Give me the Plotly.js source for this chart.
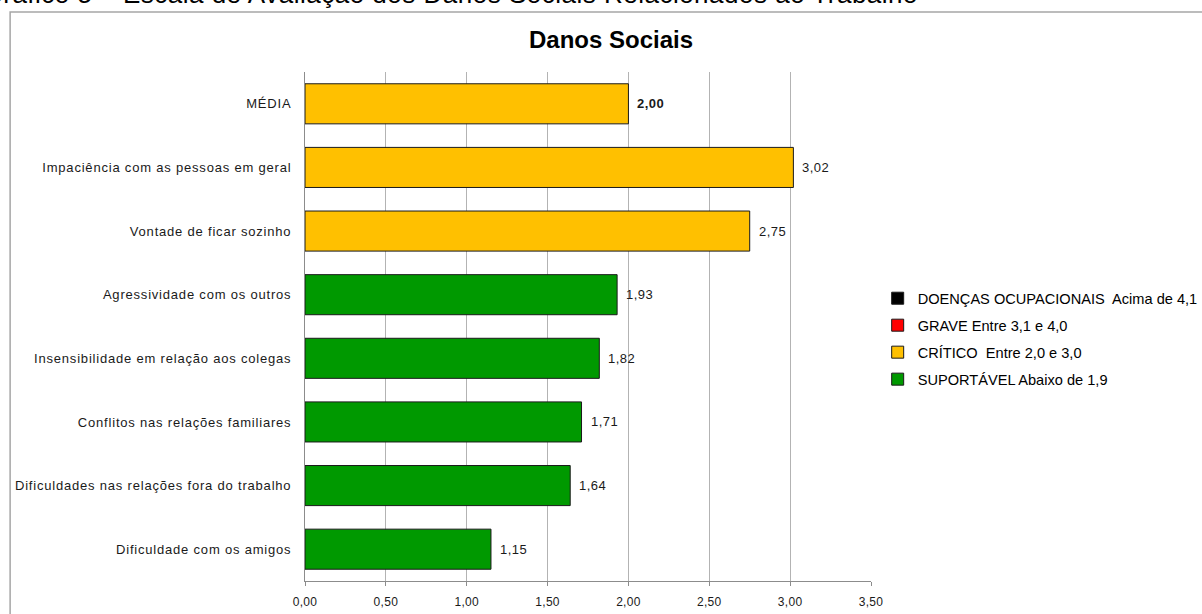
<!DOCTYPE html>
<html>
<head>
<meta charset="utf-8">
<script src="https://cdn.plot.ly/plotly-3.0.1.min.js"></script>
<style>
html,body{margin:0;padding:0;background:#fff;}
#chart{width:1202px;height:614px;}
#chart .ytick text{letter-spacing:0.8px;}
#chart .xtick text{letter-spacing:0.3px;}
#chart .annotation-text{letter-spacing:0.5px;}
</style>
</head>
<body>
<div id="chart"></div>
<script>
const categories = [
  "MÉDIA",
  "Impaciência com as pessoas em geral",
  "Vontade de ficar sozinho",
  "Agressividade com os outros",
  "Insensibilidade em relação aos colegas",
  "Conflitos nas relações familiares",
  "Dificuldades nas relações fora do trabalho",
  "Dificuldade com os amigos"
];
const values = [2.00, 3.02, 2.75, 1.93, 1.82, 1.71, 1.64, 1.15];
const levels = ["CRÍTICO", "CRÍTICO", "CRÍTICO", "SUPORTÁVEL", "SUPORTÁVEL", "SUPORTÁVEL", "SUPORTÁVEL", "SUPORTÁVEL"];
const legendNames = ["DOENÇAS OCUPACIONAIS  Acima de 4,1", "GRAVE Entre 3,1 e 4,0", "CRÍTICO  Entre 2,0 e 3,0", "SUPORTÁVEL Abaixo de 1,9"];
const legendKeys = ["DOENÇAS", "GRAVE", "CRÍTICO", "SUPORTÁVEL"];
const legendColors = ["#000000", "#ff0000", "#ffc000", "#009900"];
const tickVals = [0, 0.5, 1, 1.5, 2, 2.5, 3, 3.5];
const tickText = ["0,00", "0,50", "1,00", "1,50", "2,00", "2,50", "3,00", "3,50"];
const chartTitle = "Danos Sociais";
const caption = "Gráfico 5 – Escala de Avaliação dos Danos Sociais Relacionados ao Trabalho";

const FONT = "Arial, Liberation Sans, sans-serif";
const fmt = v => v.toFixed(2).replace(".", ",");

const traces = legendKeys.map((k, i) => {
  const ys = [], xs = [];
  categories.forEach((c, j) => { if (levels[j] === k) { ys.push(c); xs.push(values[j]); } });
  return {
    type: "bar", orientation: "h", name: legendNames[i], legendgroup: k,
    y: ys.length ? ys : [categories[0]], x: xs.length ? xs : [null],
    marker: {color: legendColors[i], line: {color: "#1a1a1a", width: 1}},
    width: 0.63, hoverinfo: "x+y"
  };
});

const annotations = values.map((v, j) => ({
  x: v, y: categories[j], xref: "x", yref: "y",
  text: j === 0 ? "<b>" + fmt(v) + "</b>" : fmt(v),
  xanchor: "left", yanchor: "middle", xshift: 8, showarrow: false,
  font: {family: FONT, size: 13, color: "#1a1a1a"}
}));
annotations.push({
  xref: "paper", yref: "paper", x: -0.541, y: 1.1532, xanchor: "left", yanchor: "middle",
  text: caption, showarrow: false, font: {family: FONT, size: 26, color: "#000"}
});

const layout = {
  width: 1202, height: 614,
  margin: {l: 305, r: 331, t: 72, b: 33, pad: 0, autoexpand: false},
  paper_bgcolor: "#ffffff", plot_bgcolor: "#ffffff",
  barmode: "overlay",
  showlegend: true,
  title: {text: "<b>" + chartTitle + "</b>", x: 611 / 1202, xref: "container", xanchor: "center",
    y: 1 - 39.5 / 614, yref: "container", yanchor: "middle",
    font: {family: FONT, size: 24, color: "#000"}},
  xaxis: {range: [0, 3.5], tickvals: tickVals, ticktext: tickText, showgrid: true,
    gridcolor: "#b3b3b3", gridwidth: 1, showline: true, linecolor: "#8c8c8c", linewidth: 1,
    ticks: "outside", ticklen: 4, tickcolor: "#8c8c8c", zeroline: false, fixedrange: true,
    tickfont: {family: FONT, size: 12, color: "#1a1a1a"}, ticklabelstandoff: 6},
  yaxis: {categoryorder: "array", categoryarray: categories, autorange: "reversed",
    showline: true, linecolor: "#8c8c8c", linewidth: 1, ticks: "", showgrid: false,
    ticklabelstandoff: 10, fixedrange: true,
    tickfont: {family: FONT, size: 13, color: "#1a1a1a"}},
  legend: {x: 1.0118, y: 0.587, xanchor: "left", yanchor: "top", traceorder: "grouped",
    font: {family: FONT, size: 14.6, color: "#000"},
    itemwidth: 30, tracegroupgap: 5, bgcolor: "rgba(0,0,0,0)"},
  annotations: annotations,
  shapes: [{type: "rect", xref: "paper", yref: "paper", x0: -0.521, x1: 1.8, y0: -0.3, y1: 1.1179,
    line: {color: "#a6a6a6", width: 1.5}, fillcolor: "rgba(0,0,0,0)", layer: "below"}]
};

Plotly.newPlot("chart", traces, layout, {displayModeBar: false, staticPlot: true});
</script>
</body>
</html>
